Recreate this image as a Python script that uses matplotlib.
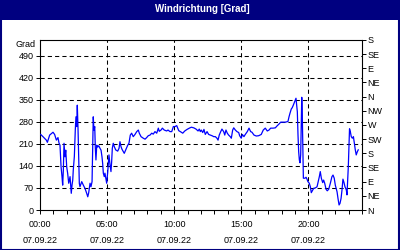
import matplotlib
matplotlib.use("Agg")
import matplotlib.pyplot as plt
from matplotlib.patches import Rectangle

# ---- data (hours since 00:00 on 07.09.22, wind direction in degrees) ----
hours = [0.05, 0.22, 0.47, 0.55, 0.72, 0.97, 1.09, 1.22, 1.34, 1.42, 1.49, 1.57, 1.64, 1.69, 1.74,
         1.79, 1.86, 1.92, 1.99, 2.06, 2.14, 2.24, 2.29, 2.33, 2.39, 2.44, 2.48, 2.56, 2.63, 2.68,
         2.74, 2.78, 2.83, 2.88, 2.93, 2.98, 3.11, 3.23, 3.35, 3.48, 3.56, 3.63, 3.73, 3.80, 3.88,
         3.93, 3.97, 4.02, 4.08, 4.12, 4.17, 4.23, 4.30, 4.38, 4.47, 4.55, 4.62, 4.67, 4.72, 4.79,
         4.84, 4.97, 5.05, 5.14, 5.22, 5.29, 5.34, 5.39, 5.46, 5.54, 5.64, 5.79, 5.89, 5.96, 6.04,
         6.11, 6.21, 6.28, 6.39, 6.54, 6.63, 6.73, 6.83, 6.95, 7.08, 7.21, 7.33, 7.40, 7.53, 7.70,
         7.83, 7.95, 8.07, 8.20, 8.33, 8.44, 8.57, 8.70, 8.82, 8.89, 9.02, 9.12, 9.26, 9.44, 9.54,
         9.69, 9.82, 9.94, 10.06, 10.19, 10.34, 10.46, 10.64, 10.79, 10.96, 11.13, 11.28, 11.46, 11.63, 11.78,
         11.87, 11.95, 12.02, 12.13, 12.22, 12.32, 12.45, 12.57, 12.69, 12.82, 12.95, 13.07, 13.19, 13.27, 13.36,
         13.47, 13.56, 13.69, 13.77, 13.86, 13.96, 14.06, 14.18, 14.26, 14.36, 14.44, 14.56, 14.68, 14.81, 14.88,
         15.00, 15.08, 15.20, 15.30, 15.45, 15.58, 15.70, 15.80, 15.95, 16.12, 16.30, 16.49, 16.64, 16.79, 16.94,
         17.07, 17.19, 17.37, 17.54, 17.69, 17.79, 17.94, 18.11, 18.28, 18.48, 18.56, 18.63, 18.73, 18.80, 18.88,
         18.98, 19.08, 19.18, 19.23, 19.28, 19.33, 19.38, 19.43, 19.48, 19.51, 19.55, 19.60, 19.63, 19.75, 19.83,
         19.90, 19.97, 20.07, 20.15, 20.22, 20.33, 20.40, 20.52, 20.65, 20.72, 20.82, 20.89, 20.97, 21.07, 21.14,
         21.22, 21.32, 21.41, 21.52, 21.64, 21.76, 21.84, 21.93, 22.01, 22.14, 22.21, 22.29, 22.36, 22.44, 22.51,
         22.58, 22.66, 22.73, 22.83, 22.88, 22.93, 22.98, 23.03, 23.07, 23.13, 23.20, 23.28, 23.36, 23.43, 23.50,
         23.57, 23.65, 23.72]
direction = [240, 233, 222, 215, 238, 247, 240, 222, 230, 212, 206, 137, 106, 79, 127,
             212, 169, 190, 137, 117, 85, 106, 74, 53, 80, 95, 127, 170, 254, 296,
             265, 333, 265, 169, 85, 74, 90, 79, 69, 53, 42, 55, 85, 74, 90,
             212, 296, 254, 265, 201, 159, 206, 200, 204, 196, 190, 169, 148, 117, 106,
             117, 85, 122, 175, 143, 122, 153, 196, 212, 201, 191, 187, 196, 217, 201,
             193, 185, 180, 191, 206, 212, 238, 244, 233, 240, 249, 254, 244, 233, 228,
             225, 230, 236, 238, 244, 241, 249, 244, 260, 250, 254, 260, 254, 251, 254,
             249, 249, 265, 265, 268, 252, 249, 244, 251, 256, 260, 263, 261, 257, 251,
             257, 249, 254, 246, 256, 240, 249, 240, 238, 236, 233, 233, 228, 222, 238,
             249, 257, 249, 238, 254, 244, 238, 233, 228, 254, 261, 254, 249, 246, 236,
             228, 240, 233, 240, 249, 260, 249, 247, 238, 235, 236, 240, 254, 260, 251,
             254, 260, 260, 261, 268, 272, 279, 279, 279, 281, 296, 307, 321, 325, 333,
             344, 355, 312, 238, 185, 159, 150, 175, 300, 358, 300, 180, 101, 101, 104,
             98, 90, 85, 74, 55, 64, 69, 70, 74, 87, 106, 122, 101, 87, 95,
             85, 66, 61, 66, 85, 106, 111, 101, 79, 58, 37, 16, 21, 37, 64,
             98, 87, 74, 64, 48, 95, 138, 200, 258, 249, 233, 228, 233, 212, 191,
             175, 185, 191]

left_ticks = [0, 70, 140, 210, 280, 350, 420, 490]
right_ticks = [0, 45, 90, 135, 180, 225, 270, 315, 360, 405, 450, 495, 540]
right_labels = ["N", "NE", "E", "SE", "S", "SW", "W", "NW", "N", "NE", "E", "SE", "S"]
x_major = [0, 5, 10, 15, 20]
x_labels = ["00:00\n07.09.22", "05:00\n07.09.22", "10:00\n07.09.22",
            "15:00\n07.09.22", "20:00\n07.09.22"]

FONT = "Liberation Sans"
FS = 6.5
NAVY = "#000080"

fig = plt.figure(figsize=(4.0, 2.5), dpi=100, facecolor="white")

# title bar and frame
fig.patches.append(Rectangle((0, 1 - 20 / 250), 1, 20 / 250, transform=fig.transFigure,
                             facecolor=NAVY, edgecolor="none", zorder=0))
fig.patches.append(Rectangle((0.5 / 400, 0.5 / 250), 1 - 1.5 / 400, 1 - 1.5 / 250,
                             transform=fig.transFigure, facecolor="none",
                             edgecolor=NAVY, linewidth=1.5, zorder=5))
fig.text(202 / 400, 1 - 9 / 250, "Windrichtung [Grad]", color="white", fontsize=7,
         fontweight="bold", family=FONT, ha="center", va="center")

ax = fig.add_axes([40 / 400, 40 / 250, 322 / 400, 170 / 250])
ax.set_facecolor("white")
ax.set_xlim(0, 24)
ax.set_ylim(0, 540)

ax.plot(hours, direction, color="#0000ff", linewidth=0.9, zorder=3)

# grid
for y in left_ticks[1:]:
    ax.axhline(y, color="black", linewidth=0.75, linestyle=(0, (4, 3)), zorder=1)
for x in x_major[1:]:
    ax.axvline(x, color="black", linewidth=0.75, linestyle=(0, (4, 3)), zorder=1)

for s in ax.spines.values():
    s.set_color("black")
    s.set_linewidth(0.8)

ax.set_yticks(left_ticks)
ax.set_yticklabels([str(v) for v in left_ticks], family=FONT, fontsize=FS)
ax.tick_params(axis="y", direction="out", length=3, width=0.7, pad=1.5)

ax.set_xticks(x_major)
ax.set_xticklabels(x_labels, family=FONT, fontsize=FS, linespacing=2.1)
ax.set_xticks(range(0, 25), minor=True)
ax.tick_params(axis="x", which="both", direction="out", length=3, width=0.7, pad=4)

ax2 = ax.twinx()
ax2.set_ylim(0, 540)
ax2.set_yticks(right_ticks)
ax2.set_yticklabels(right_labels, family=FONT, fontsize=FS)
ax2.tick_params(axis="y", direction="out", length=3, width=0.7, pad=1)
for s in ax2.spines.values():
    s.set_visible(False)

fig.text(36 / 400, 1 - 45 / 250, "Grad", family=FONT, fontsize=FS, ha="right", va="center")

fig.savefig("out.png", dpi=100, facecolor="white")
